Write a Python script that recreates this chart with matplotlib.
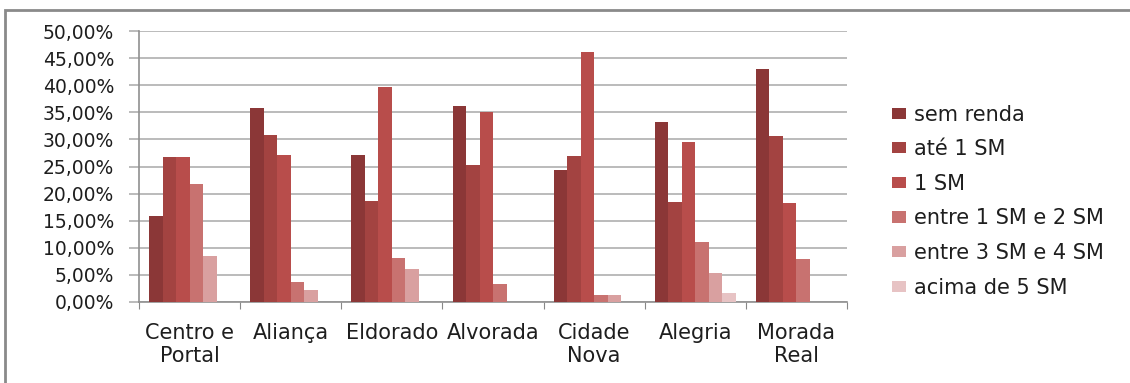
import matplotlib.pyplot as plt
import numpy as np
from matplotlib.patches import Rectangle

# Distribuição de renda por bairro (percentual)
bairros = ['Centro e\nPortal', 'Aliança', 'Eldorado', 'Alvorada', 'Cidade\nNova', 'Alegria', 'Morada\nReal']
faixas = ['sem renda', 'até 1 SM', '1 SM', 'entre 1 SM e 2 SM', 'entre 3 SM e 4 SM', 'acima de 5 SM']

sem_renda = [15.8, 35.8, 27.1, 36.2, 24.4, 33.3, 43.0]
ate_1sm = [26.7, 30.8, 18.6, 25.2, 27.0, 18.5, 30.7]
um_sm = [26.7, 27.1, 39.6, 35.0, 46.2, 29.6, 18.3]
entre_1_2 = [21.8, 3.6, 8.1, 3.4, 1.2, 11.0, 8.0]
entre_3_4 = [8.5, 2.3, 6.1, 0.0, 1.2, 5.4, 0.0]
acima_5 = [0.0, 0.0, 0.0, 0.0, 0.0, 1.7, 0.0]

series = [sem_renda, ate_1sm, um_sm, entre_1_2, entre_3_4, acima_5]
cores = ['#8b3737', '#a34341', '#b84d4b', '#c87270', '#d9a0a0', '#e7c3c4']

plt.rcParams['font.family'] = ['DejaVu Sans']
texto = '#1e1e1e'

fig = plt.figure(figsize=(11.3, 3.83), dpi=100)
ax = fig.add_axes([0.123, 0.2115, 0.6266, 0.7075])

x = np.arange(len(bairros))
n = len(series)
w = 1.0 / (n + 1.5)
for i, (vals, cor) in enumerate(zip(series, cores)):
    pos = x - 0.5 + 0.75 * w + (i + 0.5) * w
    ax.bar(pos, vals, width=w, color=cor, label=faixas[i], zorder=3)

ax.set_xlim(-0.5, len(bairros) - 0.5)
ax.set_ylim(0, 50)
ax.set_yticks(np.arange(0, 51, 5))
ax.set_yticklabels([f'{v},00%' for v in range(0, 51, 5)], fontsize=13.5, color=texto)
ax.yaxis.grid(True, color='#a8a8a8', linewidth=1.1, zorder=0)

# marcas do eixo x entre as categorias, rótulos no centro
ax.set_xticks(np.arange(-0.5, len(bairros), 1.0))
ax.set_xticklabels([])
ax.set_xticks(x, minor=True)
ax.set_xticklabels(bairros, minor=True, fontsize=15, color=texto, linespacing=1.2)
ax.tick_params(axis='x', which='minor', length=0, pad=15)
ax.tick_params(axis='x', which='major', length=5, color='#888888')
ax.tick_params(axis='y', length=7, color='#a8a8a8', width=1.1, pad=11)

for s in ['top', 'right']:
    ax.spines[s].set_visible(False)
for s in ['left', 'bottom']:
    ax.spines[s].set_color('#909090')
    ax.spines[s].set_linewidth(1.2)

leg = fig.legend(loc='center left', bbox_to_anchor=(0.773, 0.475), frameon=False,
                 fontsize=15, handlelength=0.65, handleheight=0.45,
                 labelspacing=0.7, handletextpad=0.4)
for t in leg.get_texts():
    t.set_color(texto)

# moldura externa do gráfico
fig.patches.append(Rectangle((5 / 1130, -0.1), 1.2, 1 - 10 / 383 + 0.1,
                             transform=fig.transFigure, fill=False,
                             edgecolor='#8a8a8a', linewidth=2))

fig.savefig('out.png', dpi=100)
